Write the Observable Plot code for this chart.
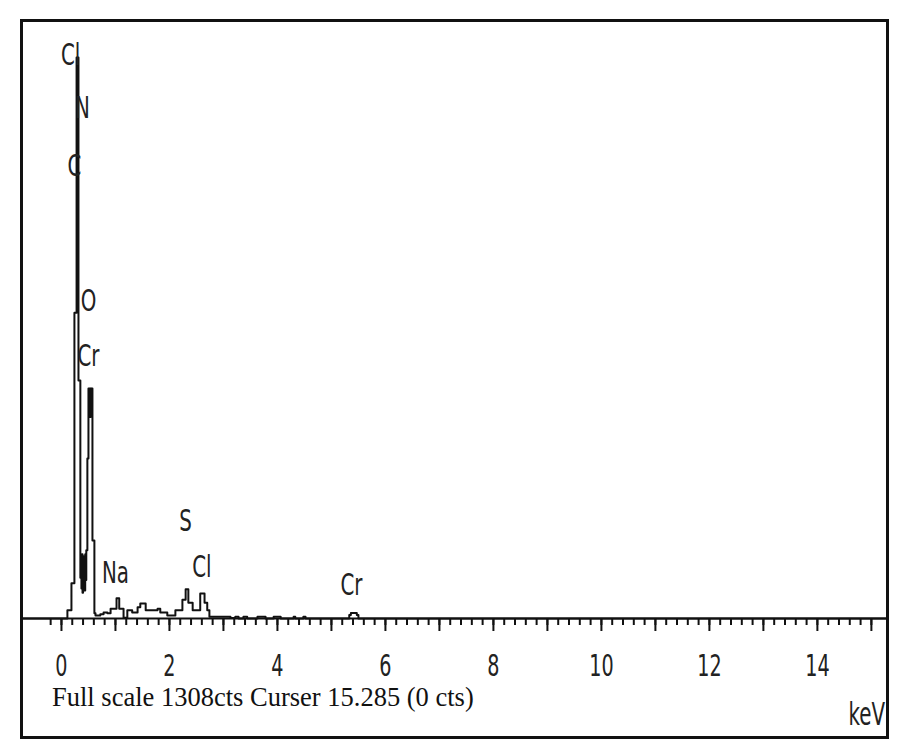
<!DOCTYPE html>
<html>
<head>
<meta charset="utf-8">
<script src="https://cdn.jsdelivr.net/npm/d3@7"></script>
<script src="https://cdn.jsdelivr.net/npm/@observablehq/plot@0.6"></script>
<style>
  html, body { margin: 0; padding: 0; background: #fff; }
  #wrap { position: relative; width: 900px; height: 752px; overflow: hidden; }
  #wrap svg { position: absolute; left: 0; top: 0; }
  #frame { position: absolute; left: 20px; top: 19px; width: 863px; height: 714px; border: 3px solid #111; pointer-events: none; }
  .cap { position: absolute; color: #111; white-space: nowrap; line-height: 1; }
  #full { left: 52px; top: 684px; font-family: "Liberation Serif", "Times New Roman", serif; font-size: 26.5px; }
  #kev { right: 15px; top: 698px; font-family: "DejaVu Sans", sans-serif; font-size: 32px; transform: scaleX(0.62); transform-origin: right center; color: #222; }
</style>
</head>
<body>
<div id="wrap"></div>
<script>
// Spectrum (step-after): energy in keV and counts
const energy = [-0.74, 0.11, 0.185, 0.24, 0.28, 0.315, 0.35, 0.36, 0.37, 0.38, 0.39, 0.40, 0.41, 0.42, 0.43, 0.44, 0.45,
  0.46, 0.48, 0.50, 0.51, 0.52, 0.53, 0.54, 0.55, 0.56, 0.574, 0.61, 0.63, 0.72, 0.78, 0.85, 0.91, 1.02, 1.07, 1.15, 1.22, 1.31, 1.41, 1.46, 1.56,
  1.78, 1.83, 1.96, 2.11, 2.24, 2.30, 2.35, 2.43, 2.57, 2.65, 2.70, 2.74, 3.13, 3.22, 3.28, 3.37, 3.44, 3.63, 3.78,
  3.93, 4.06, 4.30, 4.33, 4.48, 4.52, 5.33, 5.36, 5.47, 5.50, 15.28];
const counts = [0, 19, 82, 713, 1308, 555, 95, 140, 70, 150, 60, 145, 75, 140, 65, 150, 90,
  159, 373, 536, 480, 536, 470, 536, 490, 536, 182, 12, 7, 10, 14, 12, 23, 47, 23, 2, 19, 14, 26, 35, 19,
  23, 14, 7, 19, 44, 68, 37, 19, 58, 37, 19, 4, 1, 4, 0, 4, 0, 4, 0,
  4, 0, 4, 0, 4, 0, 8, 13, 8, 0, 0];

// Peak labels
const labelText = ["Cl", "N", "C", "O", "Cr", "Na", "S", "Cl", "Cr"];
const labelKeV = [0.17, 0.39, 0.24, 0.50, 0.50, 1.00, 2.30, 2.60, 5.37];
const labelCounts = [1313, 1191, 1056, 741, 611, 105, 228, 119, 77];

// Axis ticks
const labelTicks = [0, 2, 4, 6, 8, 10, 12, 14];
const majorTicks = [0, 1, 2, 3, 4, 5, 6, 7, 8, 9, 10, 11, 12, 13, 14, 15];
const minorTicks = d3.range(-1, 76).map(i => +(i * 0.2).toFixed(1));

const spectrum = energy.map((e, i) => ({keV: e, cts: counts[i]}));
const labels = labelText.map((t, i) => ({t, keV: labelKeV[i], cts: labelCounts[i]}));

const sans = "'DejaVu Sans', sans-serif";

const chart = Plot.plot({
  width: 900,
  height: 752,
  marginLeft: 21,
  marginRight: 14,
  marginTop: 57,
  marginBottom: 134,
  x: {domain: [-0.74, 15.28]},
  y: {domain: [0, 1308], axis: null},
  style: {background: "transparent", color: "#111"},
  marks: [
    Plot.ruleY([0], {stroke: "#111", strokeWidth: 2}),
    Plot.axisX({ticks: minorTicks, tickSize: 7, tickFormat: () => "", stroke: "#111", strokeWidth: 2, label: null}),
    Plot.axisX({ticks: majorTicks, tickSize: 13, tickFormat: () => "", stroke: "#111", strokeWidth: 2, label: null}),
    Plot.axisX({ticks: labelTicks, tickSize: 0, tickPadding: 36, fontSize: 30, fontFamily: sans, fill: "#222", label: null}),
    Plot.line(spectrum, {x: "keV", y: "cts", curve: "step-after", stroke: "#111", strokeWidth: 2}),
    Plot.text(labels, {x: "keV", y: "cts", text: "t", fontSize: 31, fontFamily: sans, fill: "#222"})
  ]
});

// Condense the sans-serif texts horizontally (the reference uses a narrow face)
chart.querySelectorAll("text").forEach(t => {
  if (!t.textContent) return;
  const tr = t.getAttribute("transform");
  if (tr && tr.includes("translate")) {
    t.setAttribute("transform", tr + " scale(0.64,1)");
  } else {
    const x = +(t.getAttribute("x") || 0), y = +(t.getAttribute("y") || 0);
    t.removeAttribute("x"); t.removeAttribute("y");
    t.setAttribute("transform", `${tr || ""} translate(${x},${y}) scale(0.64,1)`);
  }
});

const wrap = document.getElementById("wrap");
wrap.appendChild(chart);
const frame = document.createElement("div"); frame.id = "frame"; wrap.appendChild(frame);
const full = document.createElement("div"); full.id = "full"; full.className = "cap";
full.textContent = "Full scale 1308cts Curser 15.285 (0 cts)"; wrap.appendChild(full);
const kev = document.createElement("div"); kev.id = "kev"; kev.className = "cap";
kev.textContent = "keV"; wrap.appendChild(kev);
</script>
</body>
</html>
